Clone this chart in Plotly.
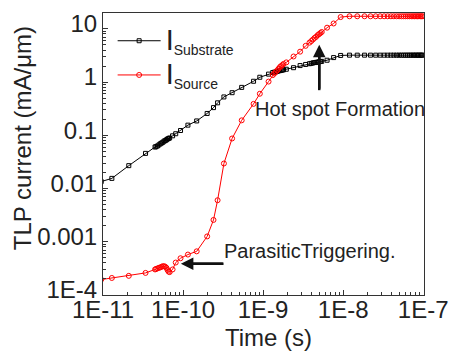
import plotly.graph_objects as go

# Time points (ns)
time_ns = [0.0095, 0.0129, 0.021, 0.034, 0.0447,
           0.046, 0.048, 0.050, 0.052, 0.054, 0.056, 0.058, 0.060, 0.062, 0.064, 0.066,
           0.068, 0.074, 0.081, 0.093, 0.115, 0.148, 0.20, 0.24, 0.27, 0.324, 0.41,
           0.54, 0.76, 0.91, 1.17, 1.32,
           1.38, 1.44, 1.50, 1.56, 1.62, 1.68, 1.74, 1.80,
           1.95, 2.4, 2.9, 3.4,
           3.8, 4.0, 4.2, 4.4, 4.6, 4.8, 5.0, 5.2, 5.4,
           6.3, 7.6, 9.3,
           12, 15, 18.5, 22, 25.5, 29, 32.5, 36, 39.5, 43, 46.5, 50, 53.5, 57,
           60.5, 64, 67.5, 71, 74.5, 78, 81.5, 85, 88.5, 92, 95.5, 99]

# Substrate current (mA/um)
i_substrate = [0.0135, 0.0155, 0.0269, 0.0457, 0.0603,
               0.0610, 0.0631, 0.0661, 0.0692, 0.0716, 0.0741, 0.0776, 0.0794, 0.0822, 0.0851, 0.0871,
               0.0891, 0.0977, 0.107, 0.123, 0.155, 0.186, 0.257, 0.331, 0.407, 0.525, 0.631,
               0.794, 1.035, 1.23, 1.41, 1.51,
               1.53, 1.55, 1.58, 1.62, 1.64, 1.66, 1.68, 1.70,
               1.74, 1.86, 2.04, 2.14,
               2.21, 2.24, 2.29, 2.32, 2.34, 2.37, 2.40, 2.43, 2.45,
               2.57, 2.88, 3.16,
               3.2, 3.2, 3.2, 3.2, 3.2, 3.2, 3.2, 3.2, 3.2, 3.2, 3.2, 3.2, 3.2, 3.2,
               3.2, 3.2, 3.2, 3.2, 3.2, 3.2, 3.2, 3.2, 3.2, 3.2, 3.2, 3.2]

# Source current (mA/um)
i_source = [1.95e-4, 2.09e-4, 2.29e-4, 2.60e-4, 3.02e-4,
            3.09e-4, 3.16e-4, 3.24e-4, 3.31e-4, 3.39e-4, 3.47e-4, 3.47e-4, 3.39e-4, 3.24e-4, 2.95e-4, 2.75e-4,
            2.69e-4, 3.02e-4, 4.07e-4, 4.90e-4, 5.75e-4, 6.61e-4, 1.26e-3, 2.57e-3, 6.03e-3, 0.0295, 0.0871,
            0.191, 0.389, 0.603, 1.02, 1.35,
            1.45, 1.55, 1.66, 1.78, 1.91, 2.0, 2.09, 2.19,
            2.34, 3.02, 3.72, 4.79,
            5.50, 5.89, 6.31, 6.76, 7.08, 7.59, 7.94, 8.32, 8.71,
            10.5, 12.6, 16.6,
            17.2, 17.2, 17.2, 17.2, 17.2, 17.2, 17.2, 17.2, 17.2, 17.2, 17.2, 17.2, 17.2, 17.2,
            17.2, 17.2, 17.2, 17.2, 17.2, 17.2, 17.2, 17.2, 17.2, 17.2, 17.2, 17.2]

x_tick_vals = [1e-11, 1e-10, 1e-9, 1e-8, 1e-7]
x_tick_text = ["1E-11", "1E-10", "1E-9", "1E-8", "1E-7"]
y_tick_vals = [1e-4, 1e-3, 1e-2, 1e-1, 1, 10]
y_tick_text = ["1E-4", "0.001", "0.01", "0.1", "1", "10"]

time_s = [t * 1e-9 for t in time_ns]

FONT = "Liberation Sans, Arial, sans-serif"

fig = go.Figure()
fig.add_trace(go.Scatter(
    x=time_s, y=i_substrate, mode="lines+markers",
    name="<span style='font-size:29px'>I</span><sub><span style='font-size:14px'>Substrate</span></sub>",
    line=dict(color="black", width=1),
    marker=dict(symbol="square-open", size=4, color="black", line=dict(width=1)),
))
fig.add_trace(go.Scatter(
    x=time_s, y=i_source, mode="lines+markers",
    name="<span style='font-size:29px'>I</span><sub><span style='font-size:14px'>Source</span></sub>",
    line=dict(color="#ff0000", width=1),
    marker=dict(symbol="circle-open", size=5, color="#ff0000", line=dict(width=1)),
))

axis_common = dict(
    showline=True, linecolor="#333", linewidth=1, mirror=True,
    showgrid=False, zeroline=False,
    ticks="inside", ticklen=5, tickcolor="#333", tickwidth=1,
    tickfont=dict(family=FONT, size=24, color="#222"),
    tickmode="array",
    minor=dict(ticks="inside", ticklen=3, tickcolor="#333", dtick="D1", showgrid=False),
)

fig.update_xaxes(type="log", range=[-11, -6.99], tickvals=x_tick_vals, ticktext=x_tick_text,
                 ticklabelstandoff=-7, **axis_common)
fig.update_yaxes(type="log", range=[-4, 1.297], tickvals=y_tick_vals, ticktext=y_tick_text,
                 ticklabelshift=-5, **axis_common)

ARROW_COLOR = "#111"
fig.update_layout(
    width=459, height=354,
    margin=dict(l=103, r=25, t=10, b=59),
    paper_bgcolor="white", plot_bgcolor="white",
    font=dict(family=FONT, color="#222"),
    showlegend=True,
    legend=dict(x=0.03, y=0.98, xanchor="left", yanchor="top",
                font=dict(family=FONT, size=24, color="#222"),
                itemwidth=43,
                bgcolor="rgba(0,0,0,0)", tracegroupgap=0),
    shapes=[
        # arrow shafts (annotation arrows below add the heads)
        dict(type="line", xref="paper", yref="paper", x0=0.6737, x1=0.6737, y0=0.7263, y1=0.85,
             line=dict(color=ARROW_COLOR, width=2.5)),
        dict(type="line", xref="paper", yref="paper", x0=0.27, x1=0.3755, y0=0.1112, y1=0.1112,
             line=dict(color=ARROW_COLOR, width=2.5)),
    ],
    annotations=[
        dict(text="TLP current (mA/μm)", xref="paper", yref="paper", x=-0.2508, y=0.558,
             xanchor="center", yanchor="middle", textangle=-90, showarrow=False,
             font=dict(family=FONT, size=24, color="#222")),
        dict(text="Time (s)", xref="paper", yref="paper", x=0.515, y=-0.15,
             xanchor="center", yanchor="middle", showarrow=False,
             font=dict(family=FONT, size=24, color="#222")),
        dict(text="Hot spot Formation", xref="x", yref="y", x=-9.121, y=-0.505,
             xanchor="left", yanchor="middle", showarrow=False,
             font=dict(family=FONT, size=20, color="#222")),
        dict(text="", width=1, height=1, xref="paper", yref="paper", x=0.6737, y=0.8877,
             axref="pixel", ayref="pixel", ax=0, ay=46,
             showarrow=True, arrowhead=2, arrowsize=1, arrowwidth=2.5, arrowcolor=ARROW_COLOR),
        dict(text="ParasiticTriggering.", xref="x", yref="y", x=-9.51, y=-3.18,
             xanchor="left", yanchor="middle", showarrow=False,
             font=dict(family=FONT, size=20, color="#222")),
        dict(text="", width=1, height=1, xref="paper", yref="paper", x=0.2426, y=0.1112,
             axref="pixel", ayref="pixel", ax=44, ay=0,
             showarrow=True, arrowhead=2, arrowsize=1, arrowwidth=2.5, arrowcolor=ARROW_COLOR),
    ],
)

fig.write_html("out.html")
